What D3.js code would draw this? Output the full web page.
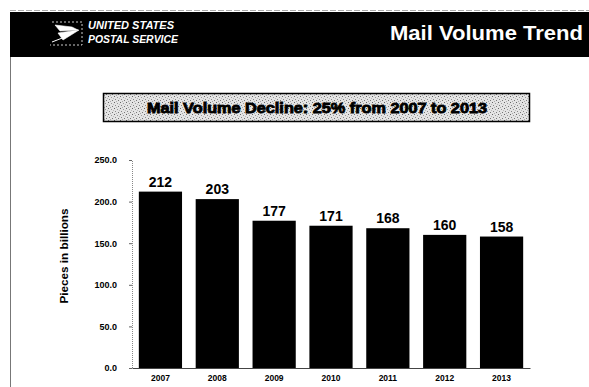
<!DOCTYPE html>
<html>
<head>
<meta charset="utf-8">
<script src="https://cdn.jsdelivr.net/npm/d3@7"></script>
<style>
  html, body { margin: 0; padding: 0; background: #fff; }
  svg { display: block; }
  text { font-family: "Liberation Sans", Arial, sans-serif; }
</style>
</head>
<body>
<svg id="chart" width="589" height="387"></svg>
<script>
const years = ["2007", "2008", "2009", "2010", "2011", "2012", "2013"];
const volumes = [212, 203, 177, 171, 168, 160, 158];
const yTicks = [0, 50, 100, 150, 200, 250];
const headerTitle = "Mail Volume Trend";
const chartTitle = "Mail Volume Decline: 25% from 2007 to 2013";
const yLabel = "Pieces in billions";
const logoLines = ["UNITED STATES", "POSTAL SERVICE"];

const svg = d3.select("#chart");
const defs = svg.append("defs");

// halftone pattern for the title box
const pat = defs.append("pattern").attr("id", "halftone")
  .attr("width", 6).attr("height", 6).attr("patternUnits", "userSpaceOnUse");
pat.append("rect").attr("width", 6).attr("height", 6).attr("fill", "#e4e4e4");
[[0,0,"#666"],[3,1,"#999"],[1,3,"#888"],[4,4,"#777"],[5,2,"#bbb"],[2,5,"#aaa"]].forEach(p => {
  pat.append("rect").attr("x", p[0]).attr("y", p[1]).attr("width", 1).attr("height", 1).attr("fill", p[2]);
});

// header bar
svg.append("rect").attr("x", 10).attr("y", 12).attr("width", 579).attr("height", 45).attr("fill", "#000");
svg.append("line").attr("x1", 10).attr("x2", 589).attr("y1", 10.5).attr("y2", 10.5)
  .attr("stroke", "#aaa").attr("stroke-width", 1).attr("stroke-dasharray", "6,2");

// left page border
svg.append("line").attr("x1", 10.5).attr("x2", 10.5).attr("y1", 57).attr("y2", 387)
  .attr("stroke", "#777").attr("stroke-width", 1);

// logo
const logo = svg.append("g").attr("fill", "none").attr("stroke", "#fff");
logo.append("path").attr("d", "M52,22 L82,22 L82,45 L50,45")
  .attr("stroke-width", 0.8).attr("stroke-dasharray", "2,2");
logo.append("path").attr("d", "M55,25 L72,27 L78,30 L60,31 Z").attr("fill", "#fff").attr("stroke-width", 0.6);
logo.append("path").attr("d", "M58,33 L79,30 L63,40 Z").attr("fill", "#fff").attr("stroke-width", 0.6);
logo.append("path").attr("d", "M52,42 L70,35").attr("stroke-width", 1);

svg.selectAll("text.logo").data(logoLines).join("text")
  .attr("class", "logo")
  .attr("x", 88).attr("y", (d, i) => 29 + i * 14)
  .attr("fill", "#fff").attr("font-size", 10).attr("font-weight", "bold")
  .attr("font-style", "italic")
  .attr("textLength", (d, i) => i === 0 ? 86 : 90).attr("lengthAdjust", "spacingAndGlyphs")
  .text(d => d);

svg.append("text").attr("x", 583).attr("y", 40).attr("text-anchor", "end")
  .attr("fill", "#fff").attr("font-size", 20).attr("font-weight", "bold")
  .attr("textLength", 193).attr("lengthAdjust", "spacingAndGlyphs")
  .text(headerTitle);

// title box
svg.append("rect").attr("x", 103.5).attr("y", 93.5).attr("width", 426).attr("height", 28)
  .attr("fill", "url(#halftone)").attr("stroke", "#000").attr("stroke-width", 1.5);
svg.append("text").attr("x", 317).attr("y", 113).attr("text-anchor", "middle")
  .attr("font-size", 15).attr("font-weight", "bold").attr("fill", "#000")
  .attr("stroke", "#000").attr("stroke-width", 0.9)
  .attr("textLength", 340).attr("lengthAdjust", "spacingAndGlyphs")
  .text(chartTitle);

// scales
const x = d3.scaleBand().domain(years).range([132, 530]).paddingInner(0.24).paddingOuter(0.12);
const y = d3.scaleLinear().domain([0, 250]).range([368, 160]);

// y axis
const yAxis = svg.append("g").attr("transform", "translate(132,0)")
  .call(d3.axisLeft(y).tickValues(yTicks).tickFormat(d3.format(".1f")).tickSize(3).tickPadding(12));
yAxis.select(".domain").attr("stroke", "#888").attr("stroke-dasharray", "1,1");
yAxis.selectAll(".tick line").attr("stroke", "#666");
yAxis.selectAll(".tick text").attr("font-size", 9).attr("font-weight", "bold")
  .attr("font-family", "'Liberation Sans', Arial, sans-serif").attr("fill", "#000");

// bars
svg.selectAll("rect.bar").data(volumes).join("rect")
  .attr("class", "bar")
  .attr("x", (d, i) => x(years[i]))
  .attr("y", d => y(d))
  .attr("width", x.bandwidth())
  .attr("height", d => y(0) - y(d))
  .attr("fill", "#000");

// value labels
svg.selectAll("text.val").data(volumes).join("text")
  .attr("class", "val")
  .attr("x", (d, i) => x(years[i]) + x.bandwidth() / 2)
  .attr("y", d => y(d) - 5)
  .attr("text-anchor", "middle")
  .attr("font-size", 14).attr("font-weight", "bold").attr("fill", "#000")
  .text(d => d);

// x axis
const xAxis = svg.append("g").attr("transform", "translate(0,368)")
  .call(d3.axisBottom(x).tickSize(0).tickPadding(7));
xAxis.select(".domain").attr("stroke", "#444").attr("stroke-width", 1);
xAxis.selectAll(".tick text").attr("font-size", 8.5).attr("font-weight", "bold")
  .attr("font-family", "'Liberation Sans', Arial, sans-serif").attr("fill", "#000");

// y label
svg.append("text")
  .attr("transform", "translate(68,256) rotate(-90)")
  .attr("text-anchor", "middle")
  .attr("font-size", 11).attr("font-weight", "bold").attr("fill", "#000")
  .attr("textLength", 95).attr("lengthAdjust", "spacingAndGlyphs")
  .text(yLabel);
</script>
</body>
</html>
